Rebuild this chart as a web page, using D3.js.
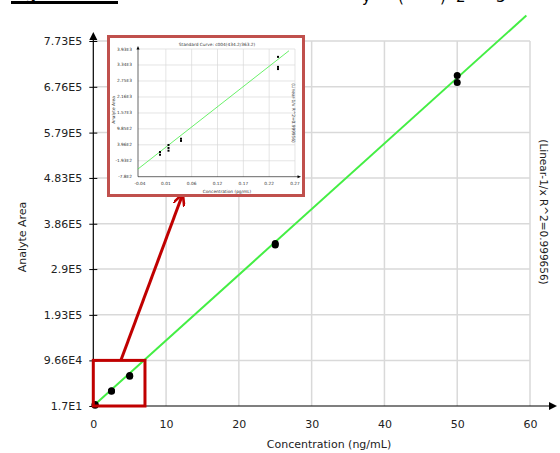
<!DOCTYPE html>
<html>
<head>
<meta charset="utf-8">
<script src="https://cdn.jsdelivr.net/npm/d3@7"></script>
<style>
  body { margin: 0; background: #fff; }
  text { font-family: "DejaVu Sans", Verdana, sans-serif; }
</style>
</head>
<body>
<div id="chart"></div>
<script>
// main calibration data (ng/mL vs analyte area)
const concentration = [0.25, 0.25, 2.5, 2.5, 5, 5, 25, 25, 50, 50];
const analyteArea = [1500, 3000, 31000, 32500, 63000, 64500, 341000, 344000, 685000, 700000];
const fitSlope = 13900;
const fitIntercept = 0;

const xTicks = [0, 10, 20, 30, 40, 50, 60];
const yTicks = [17, 96600, 193000, 290000, 386000, 483000, 579000, 676000, 773000];
const yTickLabels = ["1.7E1", "9.66E4", "1.93E5", "2.9E5", "3.86E5", "4.83E5", "5.79E5", "6.76E5", "7.73E5"];

// zoomed region shown in the inset (pg/mL)
const insetConc = [0.0, 0.0, 0.017, 0.017, 0.017, 0.042, 0.042, 0.236, 0.236, 0.236];
const insetArea = [130, 30, 390, 280, 180, 620, 540, 3640, 3270, 3190];
const insetSlope = 14440;
const insetIntercept = 140;
const insetXTicks = [-0.04, 0.0117, 0.0633, 0.115, 0.1667, 0.2183, 0.27];
const insetXLabels = ["-0.04", "0.01", "0.06", "0.12", "0.17", "0.22", "0.27"];
const insetYTicks = [-780, -193, 396, 985, 1570, 2160, 2750, 3340, 3930];
const insetYLabels = ["-7.8E2", "-1.93E2", "3.96E2", "9.85E2", "1.57E3", "2.16E3", "2.75E3", "3.34E3", "3.93E3"];

const zoomBox = { x: [0, 7.1], y: [17, 96600] };

const W = 560, H = 453;
const svg = d3.select("#chart").append("svg")
    .attr("width", W).attr("height", H);

const grid = "#d9d9d9";
const green = "#44ee44";

// clipped caption at the very top of the page
svg.append("text").attr("x", 10).attr("y", 0)
    .style("font-size", "15px").style("font-weight", "bold").text("Figure 3");
svg.append("rect").attr("x", 11).attr("y", 1).attr("width", 107).attr("height", 3).attr("fill", "#000");
[["y", 362], ["(", 398], [")", 440], ["2", 456], ["3", 496]].forEach(([t, x]) => {
    svg.append("text").attr("x", x).attr("y", 2).style("font-size", "15px").text(t);
});

// scales
const x = d3.scaleLinear().domain([0, 60]).range([93.3, 530]);
const y = d3.scaleLinear().domain([17, 773000]).range([406, 41]);

// grid
svg.append("g").selectAll("line").data(xTicks.slice(1)).join("line")
    .attr("x1", d => x(d)).attr("x2", d => x(d))
    .attr("y1", y(773000)).attr("y2", y(17))
    .attr("stroke", grid).attr("stroke-width", 1.5);
svg.append("g").selectAll("line").data(yTicks.slice(1)).join("line")
    .attr("x1", x(0)).attr("x2", x(60))
    .attr("y1", d => y(d)).attr("y2", d => y(d))
    .attr("stroke", grid).attr("stroke-width", 1.5);

// axes
const yAxis = svg.append("g").attr("transform", `translate(${x(0)},0)`)
    .call(d3.axisLeft(y).tickValues(yTicks).tickFormat((d, i) => yTickLabels[i]).tickSize(4).tickPadding(7));
yAxis.select(".domain").remove();
yAxis.selectAll(".tick line").attr("x2", 4).attr("x1", -4).attr("stroke", "#000");
yAxis.selectAll(".tick text").style("font-size", "11px").attr("fill", "#222")
    .style("font-family", "DejaVu Sans, Verdana, sans-serif");

const xAxis = svg.append("g").attr("transform", `translate(0,${y(17)})`)
    .call(d3.axisBottom(x).tickValues(xTicks).tickSize(0).tickPadding(14));
xAxis.select(".domain").remove();
xAxis.selectAll(".tick text").style("font-size", "11px").attr("fill", "#222")
    .style("font-family", "DejaVu Sans, Verdana, sans-serif");

svg.append("line").attr("x1", x(0)).attr("x2", x(0)).attr("y1", y(17) + 1).attr("y2", 38)
    .attr("stroke", "#000").attr("stroke-width", 1.2);
svg.append("path").attr("d", `M${x(0)},32 L${x(0) - 4},40 L${x(0) + 4},40 Z`).attr("fill", "#000");
svg.append("line").attr("x1", x(0)).attr("x2", 550).attr("y1", y(17)).attr("y2", y(17))
    .attr("stroke", "#000").attr("stroke-width", 1.2);
svg.append("path").attr("d", `M557,${y(17)} L549,${y(17) - 4} L549,${y(17) + 4} Z`).attr("fill", "#000");

// axis titles
svg.append("text").attr("x", 329).attr("y", 448).attr("text-anchor", "middle")
    .style("font-size", "11px").attr("fill", "#222").text("Concentration (ng/mL)");
svg.append("text").attr("transform", "translate(26,237) rotate(-90)").attr("text-anchor", "middle")
    .style("font-size", "11px").attr("fill", "#222").text("Analyte Area");
svg.append("text").attr("transform", "translate(540,212) rotate(90)").attr("text-anchor", "middle")
    .style("font-size", "10.5px").attr("fill", "#222").text("(Linear-1/x R^2=0.999656)");

// fit line
svg.append("line")
    .attr("x1", x(0)).attr("y1", y(fitIntercept))
    .attr("x2", x(59.5)).attr("y2", y(fitIntercept + fitSlope * 59.5))
    .attr("stroke", green).attr("stroke-width", 2);

// points
svg.append("g").selectAll("circle").data(concentration).join("circle")
    .attr("cx", d => x(d)).attr("cy", (d, i) => y(analyteArea[i]))
    .attr("r", 3.5).attr("fill", "#000");

// zoom box
svg.append("rect")
    .attr("x", x(zoomBox.x[0])).attr("y", y(zoomBox.y[1]))
    .attr("width", x(zoomBox.x[1]) - x(zoomBox.x[0]))
    .attr("height", y(zoomBox.y[0]) - y(zoomBox.y[1]))
    .attr("fill", "none").attr("stroke", "#c00000").attr("stroke-width", 3);

// arrow
svg.append("defs").append("marker").attr("id", "arr")
    .attr("viewBox", "0 0 10 10").attr("refX", 8).attr("refY", 5)
    .attr("markerWidth", 4).attr("markerHeight", 4).attr("orient", "auto")
    .append("path").attr("d", "M0,0 L10,5 L0,10").attr("fill", "none")
    .attr("stroke", "#c00000").attr("stroke-width", 2.2);
svg.append("line").attr("x1", 121).attr("y1", 360).attr("x2", 182).attr("y2", 196)
    .attr("stroke", "#c00000").attr("stroke-width", 3).attr("marker-end", "url(#arr)");

// inset
svg.append("rect").attr("x", 108.5).attr("y", 36.5).attr("width", 195).attr("height", 159)
    .attr("fill", "#fff").attr("stroke", "#c0504d").attr("stroke-width", 3);

const ix = d3.scaleLinear().domain([-0.04, 0.27]).range([140, 295]);
const iy = d3.scaleLinear().domain([-780, 3930]).range([176.7, 49]);
const ins = svg.append("g");
const fs = "4.3px";

ins.append("g").selectAll("line").data(insetXTicks.slice(1)).join("line")
    .attr("x1", d => ix(d)).attr("x2", d => ix(d)).attr("y1", iy(3930)).attr("y2", iy(-780))
    .attr("stroke", grid).attr("stroke-width", 0.7);
ins.append("g").selectAll("line").data(insetYTicks.slice(1)).join("line")
    .attr("x1", 138).attr("x2", ix(0.27)).attr("y1", d => iy(d)).attr("y2", d => iy(d))
    .attr("stroke", grid).attr("stroke-width", 0.7);

ins.append("g").selectAll("text").data(insetYTicks).join("text")
    .attr("x", 132).attr("y", d => iy(d) + 1.5).attr("text-anchor", "end")
    .style("font-size", fs).attr("fill", "#333").text((d, i) => insetYLabels[i]);
ins.append("g").selectAll("text").data(insetXTicks).join("text")
    .attr("x", d => ix(d)).attr("y", 185).attr("text-anchor", "middle")
    .style("font-size", fs).attr("fill", "#333").text((d, i) => insetXLabels[i]);

ins.append("line").attr("x1", 138).attr("x2", 138).attr("y1", iy(-780)).attr("y2", 49)
    .attr("stroke", "#000").attr("stroke-width", 0.6);
ins.append("path").attr("d", "M138,46 L136.5,49.5 L139.5,49.5 Z").attr("fill", "#000");
ins.append("line").attr("x1", 138).attr("x2", 298).attr("y1", iy(-780)).attr("y2", iy(-780))
    .attr("stroke", "#000").attr("stroke-width", 0.6);
ins.append("path").attr("d", `M301,${iy(-780)} L297.5,${iy(-780) - 1.5} L297.5,${iy(-780) + 1.5} Z`).attr("fill", "#000");

ins.append("text").attr("x", 217).attr("y", 45.5).attr("text-anchor", "middle")
    .style("font-size", fs).attr("fill", "#333").text("Standard Curve: c004(434.2/363.2)");
ins.append("text").attr("x", 227).attr("y", 193).attr("text-anchor", "middle")
    .style("font-size", fs).attr("fill", "#333").text("Concentration (pg/mL)");
ins.append("text").attr("transform", "translate(115,110) rotate(-90)").attr("text-anchor", "middle")
    .style("font-size", fs).attr("fill", "#333").text("Analyte Area");
ins.append("text").attr("transform", "translate(292,113) rotate(90)").attr("text-anchor", "middle")
    .style("font-size", fs).attr("fill", "#333").text("(Linear-1/x R^2=0.999956)");

ins.append("line")
    .attr("x1", ix(-0.0445)).attr("y1", iy(insetIntercept + insetSlope * -0.0445))
    .attr("x2", ix(0.258)).attr("y2", iy(insetIntercept + insetSlope * 0.258))
    .attr("stroke", green).attr("stroke-width", 0.8);

ins.append("g").selectAll("rect").data(insetConc).join("rect")
    .attr("x", d => ix(d) - 1).attr("y", (d, i) => iy(insetArea[i]) - 1)
    .attr("width", 2).attr("height", 2).attr("fill", "#000");
</script>
</body>
</html>
